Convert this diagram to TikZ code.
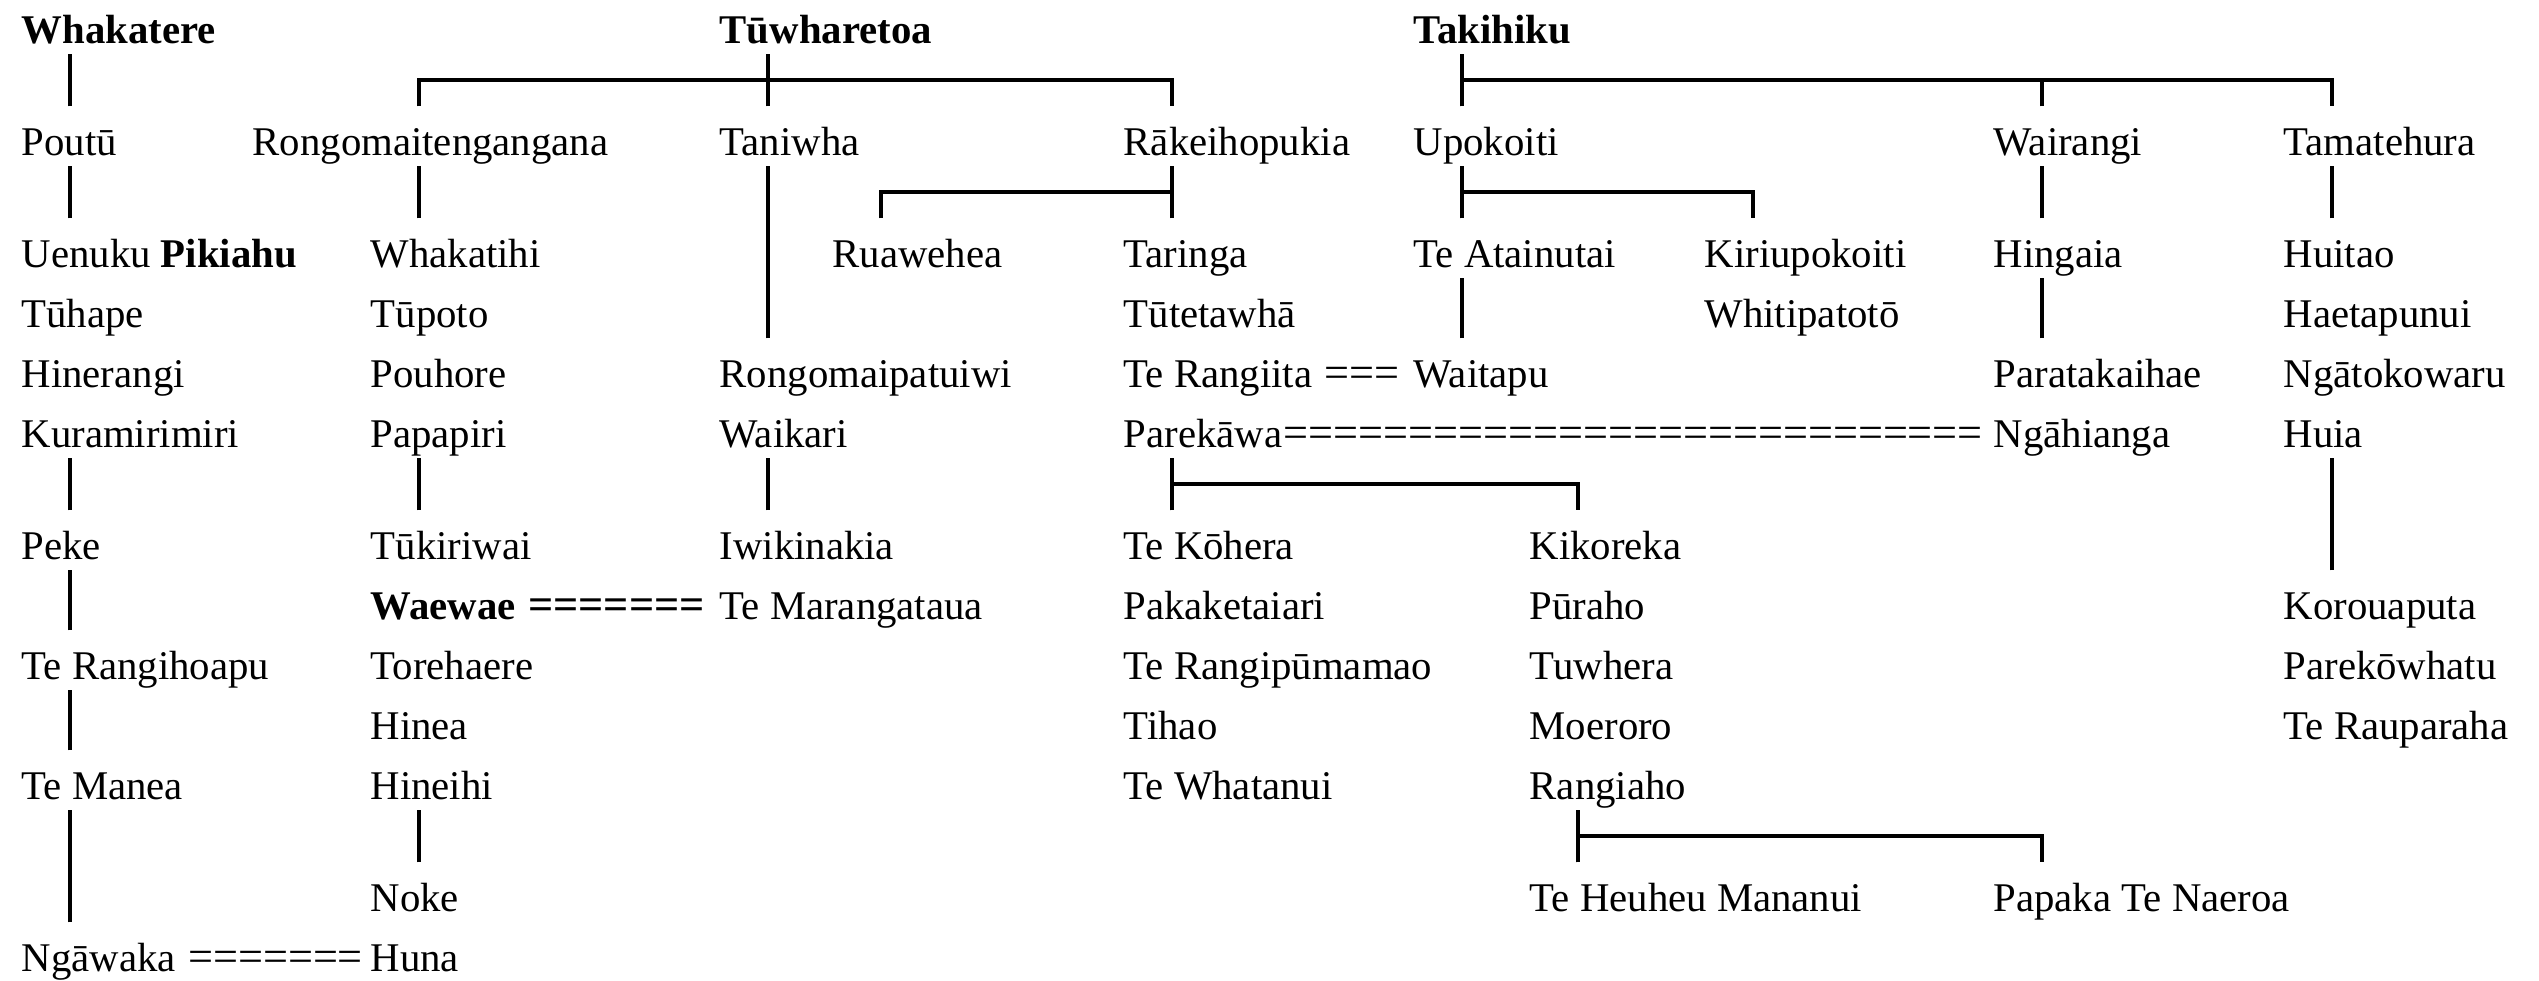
\documentclass[tikz,border=0pt]{standalone}
\usepackage{fontspec}
\setmainfont{Liberation Serif}
\usetikzlibrary{calc,positioning}

% descent stroke from parent #2 down to child #3 (#1 = offset from child's left edge)
\newcommand{\kinline}[3][4.9mm]{\draw[link] ([xshift=#1]#3.north west) coordinate (k) -- (k |- #2.south);}
% sibling bar under #2, from child #3 to child #4
\newcommand{\kinfork}[4][4.9mm]{%
  \path ([xshift=#1]#3.north west) coordinate (fl)
        ([xshift=4.9mm]#4.north west) coordinate (fr)
        ($(#2.south)!.5!(#3.north)$) coordinate (fm);
  \draw[link] (fl) -- (fl |- fm) -- (fr |- fm) -- (fr);}
\newcommand{\kindrop}[1]{\draw[link] ([xshift=4.9mm]#1.north west) coordinate (k) -- (k |- fm);}
% marriage: row of = signs after #1
\newcommand{\kinwed}[2]{\node[person] (#1eq) [right=0pt of #1] {\fontsize{12.6pt}{13pt}\selectfont#2};}

\begin{document}
\begin{tikzpicture}[x=0.1mm,y=-0.1mm,
  person/.style={anchor=base west,inner sep=0pt,text height=4.8mm,text depth=1mm,
    font=\fontsize{11.6pt}{13pt}\selectfont},
  link/.style={line width=1.1pt}]

\useasboundingbox (0,0) rectangle (2539,980);

% row 0
\node[person] (whakatere) at (21,43) {\textbf{Whakatere}};
\node[person] (tuwharetoa) at (719,43) {\textbf{Tūwharetoa}};
\node[person] (takihiku) at (1413,43) {\textbf{Takihiku}};
% row 1
\node[person] (poutu) at (21,155) {Poutū};
\node[person] (rongomaitengangana) at (252,155) {Rongomaitengangana};
\node[person] (taniwha) at (719,155) {Taniwha};
\node[person] (rakeihopukia) at (1123,155) {Rākeihopukia};
\node[person] (upokoiti) at (1413,155) {Upokoiti};
\node[person] (wairangi) at (1993,155) {Wairangi};
\node[person] (tamatehura) at (2283,155) {Tamatehura};
% row 2
\node[person] (uenuku) at (21,267) {Uenuku \textbf{Pikiahu}};
\node[person] (whakatihi) at (370,267) {Whakatihi};
\node[person] (ruawehea) at (832,267) {Ruawehea};
\node[person] (taringa) at (1123,267) {Taringa};
\node[person] (teatainutai) at (1413,267) {Te Atainutai};
\node[person] (kiriupokoiti) at (1704,267) {Kiriupokoiti};
\node[person] (hingaia) at (1993,267) {Hingaia};
\node[person] (huitao) at (2283,267) {Huitao};
% row 3
\node[person] (tuhape) at (21,327) {Tūhape};
\node[person] (tupoto) at (370,327) {Tūpoto};
\node[person] (tutetawha) at (1123,327) {Tūtetawhā};
\node[person] (whitipatoto) at (1704,327) {Whitipatotō};
\node[person] (haetapunui) at (2283,327) {Haetapunui};
% row 4
\node[person] (hinerangi) at (21,387) {Hinerangi};
\node[person] (pouhore) at (370,387) {Pouhore};
\node[person] (rongomaipatuiwi) at (719,387) {Rongomaipatuiwi};
\node[person] (terangiita) at (1123,387) {Te Rangiita};
\node[person] (waitapu) at (1413,387) {Waitapu};
\node[person] (paratakaihae) at (1993,387) {Paratakaihae};
\node[person] (ngatokowaru) at (2283,387) {Ngātokowaru};
% row 5
\node[person] (kuramirimiri) at (21,447) {Kuramirimiri};
\node[person] (papapiri) at (370,447) {Papapiri};
\node[person] (waikari) at (719,447) {Waikari};
\node[person] (parekawa) at (1123,447) {Parekāwa};
\node[person] (ngahianga) at (1993,447) {Ngāhianga};
\node[person] (huia) at (2283,447) {Huia};
% row 6
\node[person] (peke) at (21,559) {Peke};
\node[person] (tukiriwai) at (370,559) {Tūkiriwai};
\node[person] (iwikinakia) at (719,559) {Iwikinakia};
\node[person] (tekohera) at (1123,559) {Te Kōhera};
\node[person] (kikoreka) at (1529,559) {Kikoreka};
% row 7
\node[person] (waewae) at (370,619) {\textbf{Waewae}};
\node[person] (temarangataua) at (719,619) {Te Marangataua};
\node[person] (pakaketaiari) at (1123,619) {Pakaketaiari};
\node[person] (puraho) at (1529,619) {Pūraho};
\node[person] (korouaputa) at (2283,619) {Korouaputa};
% row 8
\node[person] (terangihoapu) at (21,679) {Te Rangihoapu};
\node[person] (torehaere) at (370,679) {Torehaere};
\node[person] (terangipumamao) at (1123,679) {Te Rangipūmamao};
\node[person] (tuwhera) at (1529,679) {Tuwhera};
\node[person] (parekowhatu) at (2283,679) {Parekōwhatu};
% row 9
\node[person] (hinea) at (370,739) {Hinea};
\node[person] (tihao) at (1123,739) {Tihao};
\node[person] (moeroro) at (1529,739) {Moeroro};
\node[person] (terauparaha) at (2283,739) {Te Rauparaha};
% row 10
\node[person] (temanea) at (21,799) {Te Manea};
\node[person] (hineihi) at (370,799) {Hineihi};
\node[person] (tewhatanui) at (1123,799) {Te Whatanui};
\node[person] (rangiaho) at (1529,799) {Rangiaho};
% row 11
\node[person] (noke) at (370,911) {Noke};
\node[person] (teheuheu) at (1529,911) {Te Heuheu Mananui};
\node[person] (papaka) at (1993,911) {Papaka Te Naeroa};
% row 12
\node[person] (ngawaka) at (21,971) {Ngāwaka};
\node[person] (huna) at (370,971) {Huna};

% marriages
\kinwed{terangiita}{\ ===}
\kinwed{parekawa}{============================}
\kinwed{waewae}{\bfseries\ =======}
\kinwed{ngawaka}{\ =======}

% families
\kinfork[16.7mm]{tuwharetoa}{rongomaitengangana}{rakeihopukia}
\kinline{tuwharetoa}{taniwha}
\kinfork{takihiku}{upokoiti}{tamatehura}
\kinline{takihiku}{upokoiti}
\kindrop{wairangi}
\kinfork{rakeihopukia}{ruawehea}{taringa}
\kinline{rakeihopukia}{taringa}
\kinfork{upokoiti}{teatainutai}{kiriupokoiti}
\kinline{upokoiti}{teatainutai}
\kinfork{parekawa}{tekohera}{kikoreka}
\kinline{parekawa}{tekohera}
\kinfork{rangiaho}{teheuheu}{papaka}
\kinline{rangiaho}{teheuheu}

% single lines of descent
\kinline{whakatere}{poutu}
\kinline{poutu}{uenuku}
\kinline{rongomaitengangana}{whakatihi}
\kinline{taniwha}{rongomaipatuiwi}
\kinline{wairangi}{hingaia}
\kinline{tamatehura}{huitao}
\kinline{teatainutai}{waitapu}
\kinline{hingaia}{paratakaihae}
\kinline{kuramirimiri}{peke}
\kinline{papapiri}{tukiriwai}
\kinline{waikari}{iwikinakia}
\kinline{huia}{korouaputa}
\kinline{peke}{terangihoapu}
\kinline{terangihoapu}{temanea}
\kinline{temanea}{ngawaka}
\kinline{hineihi}{noke}

\end{tikzpicture}
\end{document}
